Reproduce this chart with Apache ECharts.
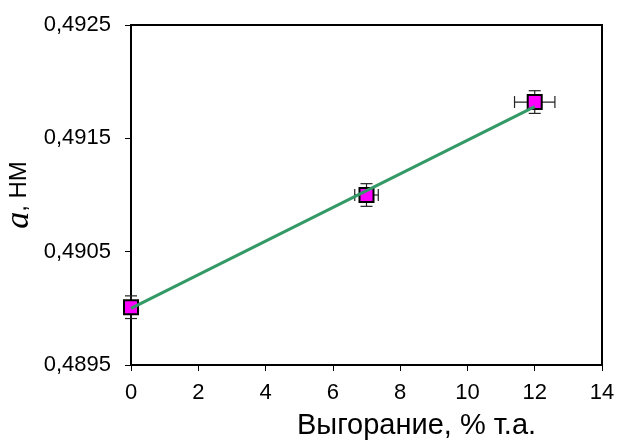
<!DOCTYPE html>
<html>
<head>
<meta charset="utf-8">
<script src="https://cdn.jsdelivr.net/npm/echarts@6/dist/echarts.min.js"></script>
<style>
  html, body { margin: 0; padding: 0; background: #fff; }
  #chart { width: 617px; height: 443px; }
</style>
</head>
<body>
<div id="chart"></div>
<script>
// --- data ---
const burnup = [0, 7, 12];                 // Выгорание, % т.а.
const latticeA = [0.49001, 0.49100, 0.49182]; // a, нм
const errY = [0.0001, 0.0001, 0.0001];
const errX = [0, 0.35, 0.6];
// trend line end points
const trendX = [0, 12];
const trendY = [0.49000, 0.49178];

const FONT = '"Liberation Sans", Arial, sans-serif';

const chart = echarts.init(document.getElementById('chart'));

const errData = burnup.map((x, i) => [x, latticeA[i], errX[i], errY[i]]);

chart.setOption({
  animation: false,
  backgroundColor: '#fff',
  grid: {
    left: 131, right: 15, top: 25, bottom: 78,
    containLabel: false,
    outerBoundsMode: 'none',
    show: true, borderColor: '#000', borderWidth: 2, backgroundColor: 'transparent',
  },
  xAxis: {
    type: 'value', min: 0, max: 14, interval: 2,
    name: 'Выгорание, % т.а.',
    nameLocation: 'middle', nameGap: 46,
    nameMoveOverlap: false,
    nameTextStyle: { color: '#000', fontSize: 29, fontFamily: FONT, padding: [0, 0, 0, 100] },
    axisLine: { show: true, lineStyle: { color: '#000', width: 2 } },
    axisTick: { show: true, inside: false, length: 6, lineStyle: { color: '#000', width: 1 } },
    axisLabel: { color: '#000', fontSize: 22, fontFamily: FONT, margin: 17 },
    splitLine: { show: false },
  },
  yAxis: {
    type: 'value', min: 0.4895, max: 0.4925, interval: 0.001,
    name: '{i|a}, НМ',
    nameLocation: 'middle', nameGap: 95, nameRotate: 90,
    nameMoveOverlap: false,
    nameTextStyle: {
      color: '#000', fontSize: 24, fontFamily: FONT,
      rich: {
        i: { fontFamily: '"Liberation Serif", "Times New Roman", serif', fontStyle: 'italic', fontSize: 34, color: '#000' },
      },
    },
    axisLine: { show: true, lineStyle: { color: '#000', width: 2 } },
    axisTick: { show: true, inside: false, length: 6, lineStyle: { color: '#000', width: 1 } },
    axisLabel: {
      color: '#000', fontSize: 22, fontFamily: FONT, margin: 20,
      formatter: v => v.toFixed(4).replace('.', ','),
    },
    splitLine: { show: false },
  },
  series: [
    {
      // error bars
      type: 'custom',
      z: 1,
      data: errData,
      renderItem: (params, api) => {
        const x = api.value(0), y = api.value(1), ex = api.value(2), ey = api.value(3);
        const c = api.coord([x, y]);
        const top = api.coord([x, y + ey]);
        const bot = api.coord([x, y - ey]);
        const lft = api.coord([x - ex, y]);
        const rgt = api.coord([x + ex, y]);
        const cap = 6;
        const style = { stroke: '#222', lineWidth: 1.2 };
        const children = [
          { type: 'line', shape: { x1: c[0], y1: top[1], x2: c[0], y2: bot[1] }, style },
          { type: 'line', shape: { x1: c[0] - cap, y1: top[1], x2: c[0] + cap, y2: top[1] }, style },
          { type: 'line', shape: { x1: c[0] - cap, y1: bot[1], x2: c[0] + cap, y2: bot[1] }, style },
        ];
        if (ex > 0) {
          children.push(
            { type: 'line', shape: { x1: lft[0], y1: c[1], x2: rgt[0], y2: c[1] }, style },
            { type: 'line', shape: { x1: lft[0], y1: c[1] - cap, x2: lft[0], y2: c[1] + cap }, style },
            { type: 'line', shape: { x1: rgt[0], y1: c[1] - cap, x2: rgt[0], y2: c[1] + cap }, style },
          );
        }
        return { type: 'group', children };
      },
    },
    {
      type: 'scatter',
      z: 2,
      symbol: 'rect',
      symbolSize: 14,
      data: burnup.map((x, i) => [x, latticeA[i]]),
      itemStyle: { color: '#ff00ff', borderColor: '#000', borderWidth: 2, opacity: 1 },
    },
    {
      type: 'line',
      z: 3,
      data: trendX.map((x, i) => [x, trendY[i]]),
      showSymbol: false,
      symbol: 'none',
      lineStyle: { color: '#339966', width: 3 },
    },
  ],
});
</script>
</body>
</html>
